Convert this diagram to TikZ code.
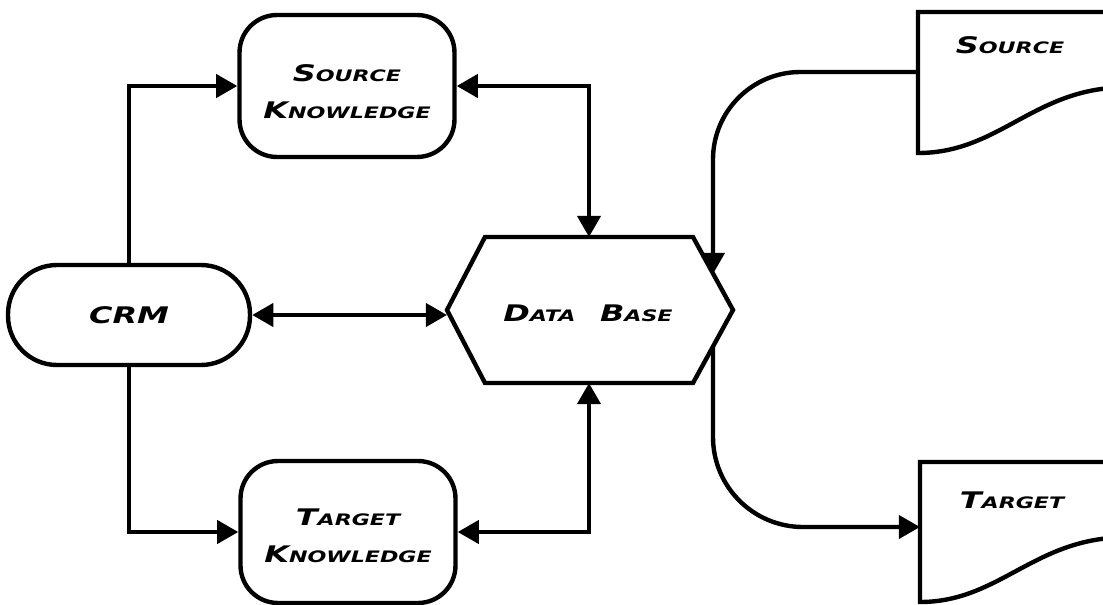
\documentclass[tikz,border=0pt]{standalone}
\usepackage{fontspec}
\setsansfont{DejaVu Sans}
\usetikzlibrary{arrows.meta}
\newcommand\hwbig[1]{{\fontsize{13}{13}\selectfont #1}}
\newcommand\hwsm[1]{{\fontsize{9}{9}\selectfont #1}}
\newcommand\hw[1]{\scalebox{1.4}[1]{#1}}
\tikzset{
  lw/.style={line width=2.5pt},
  lbl/.style={font=\sffamily\bfseries\itshape, inner sep=0pt, align=center},
  kbox/.style={draw, lw, rounded corners=0.75cm, minimum width=4.3cm, minimum height=2.84cm},
  conn/.style={lw, -{Triangle[length=12pt,width=13pt]}},
  conn2/.style={lw, {Triangle[length=12pt,width=13pt]}-{Triangle[length=12pt,width=13pt]}},
}
\begin{document}
\begin{tikzpicture}[x=0.02cm,y=-0.02cm]
\useasboundingbox (0,0) rectangle (1103,605);
% nodes
\node[draw, lw, rounded corners=0.98cm, minimum width=4.84cm, minimum height=2cm, lbl] (crm) at (129,315) {\hw{\hwbig{CRM}}};
\node[kbox] (sk) at (347,86) {};
\node[lbl] (sktxt) at (347,92) {\hw{\hwbig{S}\hwsm{OURCE}}\\[9pt]\hw{\hwbig{K}\hwsm{NOWLEDGE}}};
\node[kbox] (tk) at (348,532) {};
\node[lbl] (tktxt) at (348,536) {\hw{\hwbig{T}\hwsm{ARGET}}\\[9pt]\hw{\hwbig{K}\hwsm{NOWLEDGE}}};
% data base hexagon
\coordinate (dbL) at (447,310);
\coordinate (dbTL) at (485,237);
\coordinate (dbTR) at (693,237);
\coordinate (dbR) at (733,310);
\coordinate (dbBR) at (693,383);
\coordinate (dbBL) at (485,383);
\draw[lw] (dbL) -- (dbTL) -- (dbTR) -- (dbR) -- (dbBR) -- (dbBL) -- cycle;
\coordinate (dbT) at (589,237);
\coordinate (dbB) at (589,383);
\coordinate (dbin) at (713,274);
\coordinate (dbout) at (713,347);
\node[lbl] (db) at (588,313) {\hw{\hwbig{D}\hwsm{ATA}\quad\hwbig{B}\hwsm{ASE}}};
% documents
\draw[lw] (1110,12) -- (918,12) -- (918,153) .. controls (995,153) and (1030,95) .. (1110,88);
\coordinate (sdoc) at (918,72);
\node[lbl] (stxt) at (1010,45) {\hw{\hwbig{S}\hwsm{OURCE}}};
\draw[lw] (1110,462) -- (920,462) -- (920,602) .. controls (995,602) and (1030,545) .. (1110,538);
\coordinate (tdoc) at (920,527);
\node[lbl] (ttxt) at (1012,500) {\hw{\hwbig{T}\hwsm{ARGET}}};
% connectors
\draw[conn] (crm.north) |- (sk.west);
\draw[conn] (crm.south) |- (tk.west);
\draw[conn2] (crm.east) -- (crm.east -| dbL);
\draw[conn2] (sk.east) -| (dbT);
\draw[conn2] (tk.east) -| (dbB);
\draw[conn, rounded corners=1.75cm] (sdoc) -| (dbin);
\draw[conn, rounded corners=1.8cm] (dbout) |- (tdoc);
\end{tikzpicture}
\end{document}
